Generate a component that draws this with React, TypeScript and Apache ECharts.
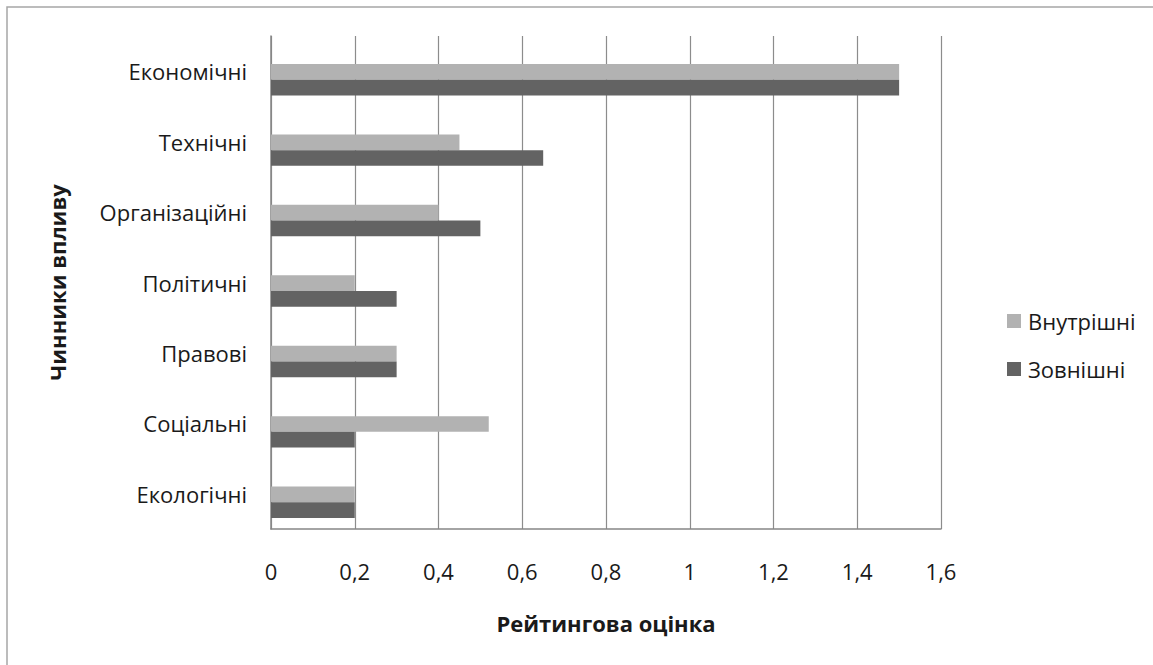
import React, { useEffect, useRef } from "react";
import * as echarts from "echarts";

const categories = ["Економічні", "Технічні", "Організаційні", "Політичні", "Правові", "Соціальні", "Екологічні"];
const internalValues = [1.5, 0.45, 0.4, 0.2, 0.3, 0.52, 0.2];
const externalValues = [1.5, 0.65, 0.5, 0.3, 0.3, 0.2, 0.2];
const spacerValues = ["-", "-", "-", "-", "-", "-", "-"];
const seriesNames = ["Внутрішні", "Зовнішні"];
const xTicks = [0, 0.2, 0.4, 0.6, 0.8, 1, 1.2, 1.4, 1.6];

const FONT = "'Open Sans', 'Noto Sans', sans-serif";
const FS = 22;

export default function App() {
  const ref = useRef<HTMLDivElement>(null);
  useEffect(() => {
    if (!ref.current) return;
    const chart = echarts.init(ref.current, undefined, { renderer: "svg" });
    chart.setOption({
      animation: false,
      backgroundColor: "#ffffff",
      textStyle: { fontFamily: FONT },
      graphic: [
        {
          type: "rect",
          shape: { x: 7, y: 7, width: 1170, height: 680 },
          style: { fill: "none", stroke: "#a6a6a6", lineWidth: 1.5 },
          silent: true,
        },
      ],
      grid: { left: 271, right: 212, top: 36, bottom: 136, containLabel: false },
      legend: {
        orient: "vertical",
        left: 1002,
        top: 305,
        itemWidth: 14,
        itemHeight: 14,
        itemGap: 26,
        icon: "rect",
        data: seriesNames,
        textStyle: { fontFamily: FONT, fontSize: FS, color: "#1a1a1a", padding: [0, 0, 0, 2] },
      },
      xAxis: {
        type: "value",
        min: 0,
        max: 1.6,
        interval: 0.2,
        name: "Рейтингова оцінка",
        nameLocation: "middle",
        nameGap: 83,
        nameTextStyle: { fontFamily: FONT, fontSize: FS, fontWeight: "bold", color: "#1a1a1a" },
        axisLine: { show: true, lineStyle: { color: "#868686", width: 1.5 } },
        axisTick: { show: false },
        splitLine: { show: true, lineStyle: { color: "#8c8c8c", width: 1.2 } },
        axisLabel: {
          fontFamily: FONT,
          fontSize: FS,
          color: "#1a1a1a",
          margin: 31,
          formatter: (v: number) => {
            const t = xTicks.find((x) => Math.abs(x - v) < 1e-9);
            return String(t !== undefined ? t : v).replace(".", ",");
          },
        },
      },
      yAxis: {
        type: "category",
        data: categories,
        inverse: true,
        name: "Чинники впливу",
        nameLocation: "middle",
        nameGap: 203,
        nameRotate: 90,
        nameTextStyle: { fontFamily: FONT, fontSize: FS, fontWeight: "bold", color: "#1a1a1a" },
        axisLine: { show: true, lineStyle: { color: "#868686", width: 1.5 } },
        axisTick: { show: false },
        axisLabel: { fontFamily: FONT, fontSize: FS, color: "#1a1a1a", margin: 24 },
        splitLine: { show: false },
      },
      series: [
        {
          name: "spacer",
          type: "bar",
          data: spacerValues,
          barWidth: 17,
          barGap: "0%",
          itemStyle: { color: "transparent" },
          silent: true,
        },
        {
          name: seriesNames[0],
          type: "bar",
          data: internalValues,
          barWidth: 15.7,
          barGap: "0%",
          itemStyle: { color: "#b2b2b2" },
        },
        {
          name: seriesNames[1],
          type: "bar",
          data: externalValues,
          barWidth: 15.7,
          barGap: "0%",
          itemStyle: { color: "#636363" },
        },
      ],
    });
    return () => chart.dispose();
  }, []);
  return (
    <div
      ref={ref}
      style={{ position: "fixed", left: 0, top: 0, width: 1153, height: 665 }}
    />
  );
}
